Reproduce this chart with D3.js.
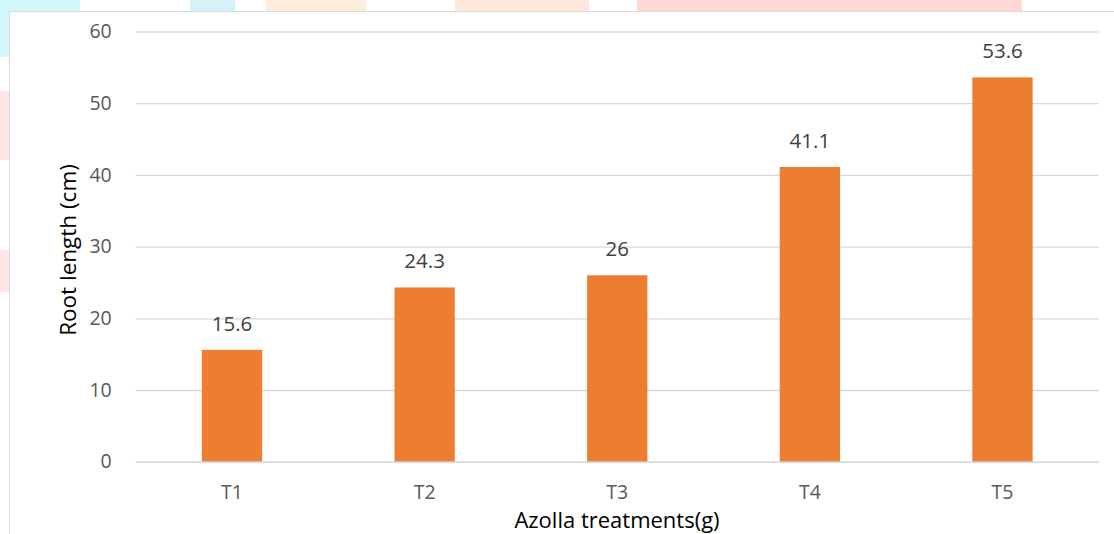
<!DOCTYPE html>
<html><head><meta charset="utf-8">
<script src="https://cdn.jsdelivr.net/npm/d3@7"></script>
<style>
html,body{margin:0;padding:0;background:#fff;overflow:hidden}
svg{display:block}
text{font-family:"Open Sans",sans-serif}
</style></head>
<body>
<svg id="c" width="1114" height="534"></svg>
<script>
const categories = ["T1","T2","T3","T4","T5"];
const values = [15.6,24.3,26,41.1,53.6];
const labels = ["15.6","24.3","26","41.1","53.6"];
const yTicks = [0,10,20,30,40,50,60];
const yTitle = "Root length (cm)";
const xTitle = "Azolla treatments(g)";

(function(){
const svg = d3.select("#c");
const FF = "'Open Sans', sans-serif";

const wm = [
  {x:0,y:0,w:80,h:11,c:"#d2f8fc"},{x:0,y:0,w:9,h:57,c:"#d2f8fc"},
  {x:190,y:0,w:45,h:11,c:"#d6f3fb"},
  {x:266,y:0,w:100,h:11,c:"#fdebdc"},
  {x:455,y:0,w:134,h:11,c:"#fde6da"},
  {x:637,y:0,w:385,h:11,c:"#fed9d4"},
  {x:0,y:91,w:9,h:69,c:"#fee6e4"},{x:0,y:250,w:9,h:42,c:"#fee6e4"}
];
svg.selectAll("rect.wm").data(wm).join("rect").attr("class","wm")
  .attr("x",d=>d.x).attr("y",d=>d.y).attr("width",d=>d.w).attr("height",d=>d.h).attr("fill",d=>d.c);

svg.append("rect").attr("x",9.5).attr("y",11.5).attr("width",1200).attr("height",600)
  .attr("fill","#fff").attr("stroke","#d9d9d9").attr("stroke-width",1);

const L=135.7, R=1098.8, T=31.5, B=461.7;
const x = d3.scaleBand().domain(categories).range([L,R]).paddingInner(0.687).paddingOuter(0.3435);
const y = d3.scaleLinear().domain([0,60]).range([B,T]);

const gy = svg.append("g").attr("transform",`translate(${L},0)`)
  .call(d3.axisLeft(y).tickValues(yTicks).tickSize(-(R-L)).tickPadding(24));
gy.select(".domain").remove();
gy.selectAll(".tick line").attr("stroke","#d9d9d9").attr("stroke-width",1.3);
gy.selectAll(".tick text").attr("fill","#595959").attr("font-size",19.5).attr("font-family",FF);

svg.selectAll("rect.bar").data(values).join("rect").attr("class","bar")
  .attr("x",(d,i)=>x(categories[i])).attr("width",x.bandwidth())
  .attr("y",d=>y(d)).attr("height",d=>y(0)-y(d)).attr("fill","#ED7D31");

svg.selectAll("text.dl").data(values).join("text").attr("class","dl")
  .attr("x",(d,i)=>x(categories[i])+x.bandwidth()/2).attr("y",d=>y(d)-19)
  .attr("text-anchor","middle").attr("font-size",20.5).attr("fill","#404040").attr("font-family",FF)
  .text((d,i)=>labels[i]);

const gx = svg.append("g").attr("transform",`translate(0,${B})`)
  .call(d3.axisBottom(x).tickSize(0).tickPadding(23));
gx.select(".domain").attr("stroke","#d9d9d9").attr("stroke-width",1.3);
gx.selectAll(".tick text").attr("fill","#595959").attr("font-size",19.5).attr("font-family",FF);

svg.append("text").attr("transform",`translate(76,250) rotate(-90)`)
  .attr("text-anchor","middle").attr("font-size",22.5).attr("fill","#000").attr("font-family",FF).text(yTitle);
svg.append("text").attr("x",617).attr("y",528)
  .attr("text-anchor","middle").attr("font-size",22).attr("fill","#000").attr("font-family",FF).text(xTitle);
})();
</script>
</body></html>
